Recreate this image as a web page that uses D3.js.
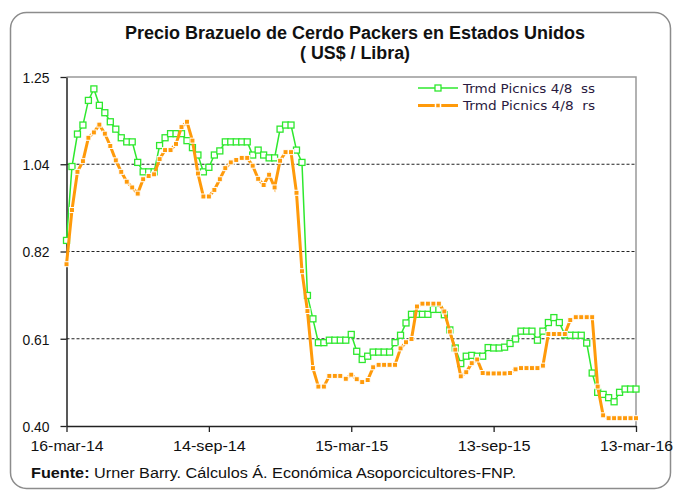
<!DOCTYPE html>
<html>
<head>
<meta charset="utf-8">
<script src="https://cdn.jsdelivr.net/npm/d3@7/dist/d3.min.js"></script>
<style>
  body { margin: 0; background: #fff; }
  text { font-family: "Liberation Sans Narrow", "Arial Narrow", "Liberation Sans", Arial, sans-serif; }
  .legend text { font-family: "DejaVu Sans", Tahoma, Verdana, sans-serif; }
</style>
</head>
<body>
<svg id="chart"></svg>
<script>
// weekly prices, 16-mar-14 .. 13-mar-16
const startDate = new Date(2014, 2, 16);
const endDate = new Date(2016, 2, 13);

const seriesNames = ["Trmd Picnics 4/8  ss", "Trmd Picnics 4/8  rs"];

const ssValues = [
  0.852, 1.032, 1.111, 1.133, 1.193, 1.221, 1.181, 1.163, 1.141, 1.123,
  1.102, 1.092, 1.092, 1.042, 1.019, 1.019, 1.019, 1.083, 1.102, 1.112,
  1.112, 1.112, 1.095, 1.078, 1.060, 1.019, 1.030, 1.060, 1.070, 1.092,
  1.092, 1.092, 1.092, 1.092, 1.060, 1.072, 1.060, 1.053, 1.053, 1.123,
  1.133, 1.133, 1.072, 1.042, 0.718, 0.661, 0.603, 0.603, 0.609, 0.609,
  0.609, 0.609, 0.623, 0.582, 0.562, 0.570, 0.580, 0.580, 0.580, 0.580,
  0.603, 0.621, 0.651, 0.672, 0.672, 0.672, 0.672, 0.684, 0.684, 0.671,
  0.634, 0.590, 0.552, 0.570, 0.572, 0.570, 0.570, 0.591, 0.590, 0.590,
  0.592, 0.601, 0.612, 0.631, 0.631, 0.631, 0.609, 0.631, 0.652, 0.664,
  0.652, 0.622, 0.621, 0.621, 0.621, 0.602, 0.529, 0.482, 0.477, 0.469,
  0.459, 0.482, 0.490, 0.490, 0.490
];

const rsValues = [
  0.794, 0.926, 1.019, 1.045, 1.102, 1.115, 1.134, 1.112, 1.082, 1.047,
  1.019, 0.995, 0.981, 0.966, 1.001, 1.009, 1.013, 1.050, 1.072, 1.072,
  1.087, 1.128, 1.141, 1.095, 1.015, 0.959, 0.959, 0.975, 1.001, 1.028,
  1.042, 1.048, 1.053, 1.053, 1.034, 1.002, 0.987, 1.012, 0.981, 1.046,
  1.067, 1.067, 0.968, 0.777, 0.680, 0.541, 0.496, 0.496, 0.522, 0.522,
  0.522, 0.515, 0.525, 0.514, 0.507, 0.512, 0.543, 0.549, 0.549, 0.549,
  0.549, 0.589, 0.604, 0.612, 0.691, 0.698, 0.698, 0.698, 0.698, 0.679,
  0.630, 0.586, 0.521, 0.531, 0.553, 0.562, 0.529, 0.528, 0.528, 0.528,
  0.528, 0.529, 0.538, 0.541, 0.541, 0.541, 0.541, 0.547, 0.624, 0.624,
  0.624, 0.624, 0.658, 0.665, 0.665, 0.665, 0.665, 0.496, 0.426, 0.419,
  0.419, 0.419, 0.419, 0.419, 0.419
];

const xTickDates = [new Date(2014, 2, 16), new Date(2014, 8, 14), new Date(2015, 2, 15), new Date(2015, 8, 13), new Date(2016, 2, 13)];
const xTickLabels = ["16-mar-14", "14-sep-14", "15-mar-15", "13-sep-15", "13-mar-16"];
const yTicks = [0.40, 0.6125, 0.825, 1.0375, 1.25];
const yTickLabels = ["0.40", "0.61", "0.82", "1.04", "1.25"];

const W = 676, H = 494;
const margin = { left: 66.5, right: 40, top: 77, bottom: 68 };
const greenCol = "#2ee82e", orangeCol = "#ff9a0a";

const dates = d3.timeWeek.range(startDate, d3.timeDay.offset(endDate, 1));

// squeeze text to mimic the narrow font of the original
function narrow(sel, w) {
  sel.attr("textLength", w).attr("lengthAdjust", "spacingAndGlyphs");
}

const svg = d3.select("#chart").attr("width", W).attr("height", H);

// outer frame
svg.append("rect")
  .attr("x", 10.5).attr("y", 12.5).attr("width", 660).attr("height", 476)
  .attr("rx", 16).attr("ry", 16)
  .attr("fill", "#fff").attr("stroke", "#8c8c8c").attr("stroke-width", 1.5);

const x = d3.scaleTime().domain([startDate, endDate]).range([margin.left, W - margin.right]);
const y = d3.scaleLinear().domain([0.40, 1.25]).range([H - margin.bottom, margin.top]);

// title
svg.append("text").attr("x", 355).attr("y", 39).attr("text-anchor", "middle")
  .attr("font-size", 18).attr("font-weight", "bold").attr("fill", "#111")
  .text("Precio Brazuelo de Cerdo Packers en Estados Unidos")
  .call(narrow, 460);
svg.append("text").attr("x", 355).attr("y", 59).attr("text-anchor", "middle")
  .attr("font-size", 18).attr("font-weight", "bold").attr("fill", "#111")
  .text("( US$ / Libra)")
  .call(narrow, 110);

// plot frame top/right
svg.append("path")
  .attr("d", `M${x.range()[0]},${y(1.25)}H${x.range()[1]}V${y(0.40)}`)
  .attr("fill", "none").attr("stroke", "#999").attr("stroke-width", 1.5);

// gridlines
svg.append("g").selectAll("line")
  .data(yTicks.slice(1, 4)).join("line")
  .attr("x1", x.range()[0]).attr("x2", x.range()[1])
  .attr("y1", d => y(d)).attr("y2", d => y(d))
  .attr("stroke", "#222").attr("stroke-width", 1.2).attr("stroke-dasharray", "3,2");

// axes
const yAxis = svg.append("g").attr("transform", `translate(${x.range()[0]},0)`)
  .call(d3.axisLeft(y).tickValues(yTicks).tickFormat((d, i) => yTickLabels[i]).tickSize(6).tickSizeOuter(0));
const xAxis = svg.append("g").attr("transform", `translate(0,${y(0.40)})`)
  .call(d3.axisBottom(x).tickValues(xTickDates).tickFormat((d, i) => xTickLabels[i]).tickSize(6).tickSizeOuter(0));

[yAxis, xAxis].forEach(g => {
  g.select(".domain").attr("stroke", "#222").attr("stroke-width", 1.5);
  g.selectAll(".tick line").attr("stroke", "#222").attr("stroke-width", 1.3);
  g.selectAll("text").attr("font-size", 15).attr("fill", "#111")
    .style("font-family", '"Liberation Sans Narrow", "Arial Narrow", "Liberation Sans", Arial, sans-serif');
});
yAxis.selectAll("text").attr("x", -17).attr("dy", "0.35em").call(narrow, 27);
xAxis.selectAll("text").attr("y", 14).attr("dy", "0.71em").call(narrow, 73);

// series
const line = d3.line().x((d, i) => x(dates[i])).y(d => y(d));

svg.append("path").datum(ssValues)
  .attr("d", line).attr("fill", "none")
  .attr("stroke", greenCol).attr("stroke-width", 1.5);
svg.append("g").selectAll("rect")
  .data(ssValues).join("rect")
  .attr("x", (d, i) => x(dates[i]) - 3).attr("y", d => y(d) - 3)
  .attr("width", 6).attr("height", 6)
  .attr("fill", "#fff").attr("stroke", greenCol).attr("stroke-width", 1.3);

svg.append("path").datum(rsValues)
  .attr("d", line).attr("fill", "none")
  .attr("stroke", orangeCol).attr("stroke-width", 3);
svg.append("g").selectAll("rect")
  .data(rsValues).join("rect")
  .attr("x", (d, i) => x(dates[i]) - 2.5).attr("y", d => y(d) - 2.5)
  .attr("width", 5).attr("height", 5)
  .attr("fill", orangeCol).attr("stroke", "#fff").attr("stroke-width", 1);

// legend
const legend = svg.append("g").attr("class", "legend");
const legendItems = legend.selectAll("g").data(seriesNames).join("g")
  .attr("transform", (d, i) => `translate(418,${88 + i * 17.5})`);
legendItems.append("line")
  .attr("x1", 0).attr("x2", 40).attr("y1", 0).attr("y2", 0)
  .attr("stroke", (d, i) => i === 0 ? greenCol : orangeCol)
  .attr("stroke-width", (d, i) => i === 0 ? 1.5 : 3);
legendItems.append("rect")
  .attr("x", (d, i) => i === 0 ? 17 : 17.5).attr("y", (d, i) => i === 0 ? -3 : -2.5)
  .attr("width", (d, i) => i === 0 ? 6 : 5).attr("height", (d, i) => i === 0 ? 6 : 5)
  .attr("fill", (d, i) => i === 0 ? "#fff" : orangeCol)
  .attr("stroke", (d, i) => i === 0 ? greenCol : "#fff")
  .attr("stroke-width", (d, i) => i === 0 ? 1.3 : 1.5);
legendItems.append("text")
  .attr("x", 45).attr("dy", "0.36em")
  .attr("font-size", 12.5).attr("fill", "#2a1a40")
  .attr("xml:space", "preserve")
  .text(d => d)
  .call(narrow, 132);

// source
const src = svg.append("text").attr("x", 31).attr("y", 478).attr("font-size", 15.5).attr("fill", "#111")
  .call(narrow, 485);
src.append("tspan").attr("font-weight", "bold").text("Fuente:");
src.append("tspan").text(" Urner Barry. Cálculos Á. Económica Asoporcicultores-FNP.");
</script>
</body>
</html>
